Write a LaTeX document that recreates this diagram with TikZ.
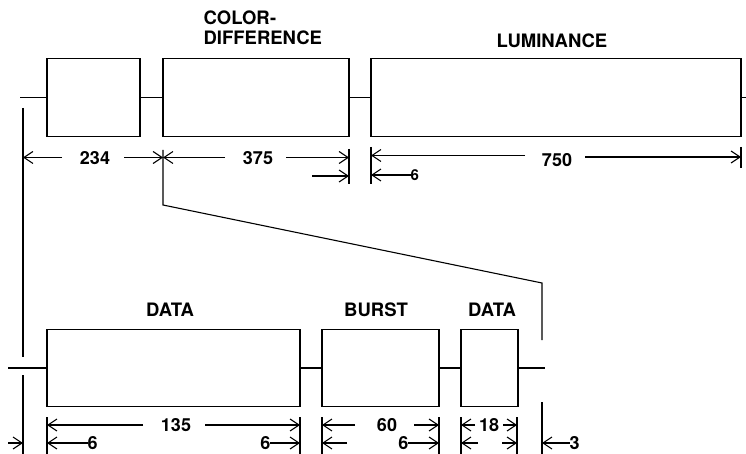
\documentclass[tikz,border=0pt]{standalone}
\usepackage{fontspec}
\setmainfont{TeX Gyre Heros}
\usetikzlibrary{arrows.meta}
\begin{document}
\begin{tikzpicture}[x=1pt,y=-1pt,
  line width=1.2pt,
  box/.style={draw, inner sep=0pt, minimum height=78pt},
  lbl/.style={inner sep=0pt, font=\fontsize{18.5}{20}\selectfont\bfseries, anchor=base},
  num/.style={inner sep=0pt, font=\fontsize{18}{20}\selectfont\bfseries},
  sml/.style={inner sep=0pt, font=\fontsize{15}{16}\selectfont\bfseries},
  dim/.style={-{Straight Barb[length=9pt,width=12pt]}, line width=1.1pt},
  ext/.style={line width=1.1pt}]
\useasboundingbox (0,0) rectangle (746,454);
% top row boxes
\node[box, minimum width=93pt]  (b1) at (93.5,97.5) {};
\node[box, minimum width=186pt] (b2) at (256,97.5) {};
\node[box, minimum width=370pt] (b3) at (556,97.5) {};
\coordinate (tl) at (20,97.5);
\coordinate (tr) at (746,97.5);
\draw (tl) -- (b1.west);
\draw (b1.east) -- (b2.west);
\draw (b2.east) -- (b3.west);
\draw (b3.east) -- (tr);
% bottom row boxes
\node[box, minimum width=253pt, minimum height=77pt] (d1) at (173.5,368) {};
\node[box, minimum width=117pt, minimum height=77pt] (bu) at (380.5,368) {};
\node[box, minimum width=57pt, minimum height=77pt]  (d2) at (489.5,368) {};
\coordinate (bl) at (8,368);
\coordinate (br) at (545,368);
\draw (bl) -- (d1.west);
\draw (d1.east) -- (bu.west);
\draw (bu.east) -- (d2.west);
\draw (d2.east) -- (br);
% labels
\node[lbl, anchor=base west] (cd) at (203,25) {COLOR-};
\node[lbl, anchor=base west] (cd2) at (203,45) {DIFFERENCE};
\node[lbl] (lum) at (552,48) {LUMINANCE};
\node[lbl] (data1) at (170,316) {DATA};
\node[lbl] (burst) at (376,316) {BURST};
\node[lbl] (data2) at (492,316) {DATA};
% extension lines
\draw[ext] (23,108) -- (23,357);
\draw[ext] (23,375) -- (23,454);
\draw[ext] (163,150) -- (163,205) -- (542,283) -- (542,340);
\draw[ext] (542,402) -- (542,454);
\draw[ext] (349,149) -- (349,184);
\draw[ext] (371,147) -- (371,184);
\draw[ext] (741,147) -- (741,168);
\foreach \xx in {47,300,322,439,461,517}
  \draw[ext] (\xx,417) -- (\xx,454);
% top dimensions
\node[num] (n234) at (95,158) {234};
\draw[dim] (62,157.5) -- (23,157.5);
\draw[dim] (124,157.5) -- (163,157.5);
\node[num] (n375) at (258,158) {375};
\draw[dim] (225,157.5) -- (163,157.5);
\draw[dim] (286,157.5) -- (349,157.5);
\draw[dim] (312,176) -- (349,176);
\node[num] (n750) at (557,160) {750};
\draw[dim] (525,155.5) -- (371,155.5);
\draw[dim] (585,157) -- (741,157);
\node[sml, anchor=west] (n6a) at (410,175.5) {6};
\draw[dim] (411,175) -- (371,175);
% bottom dimensions
\node[num] (n135) at (176,425) {135};
\draw[dim] (143,425) -- (47,425);
\draw[dim] (205,425) -- (300,425);
\node[num] (n60) at (387,425) {60};
\draw[dim] (355,425) -- (322,425);
\draw[dim] (414,425) -- (439,425);
\node[num] (n18) at (489,425) {18};
\draw[dim] (475,425) -- (461,425);
\draw[dim] (503,425) -- (517,425);
\node[num, anchor=west] (n6b) at (87,443) {6};
\draw[dim] (88,443) -- (47,443);
\node[num, anchor=east] (n6c) at (271,443) {6};
\draw[dim] (270,443) -- (300,443);
\draw[dim] (347,443) -- (322,443);
\node[num, anchor=east] (n6d) at (409,443) {6};
\draw[dim] (408,443) -- (439,443);
\draw[dim] (478,443) -- (461,443);
\draw[dim] (502,443) -- (517,443);
\node[num, anchor=west] (n3) at (569,443) {3};
\draw[dim] (570,443) -- (542,443);
\draw[dim] (8,443) -- (23,443);
\end{tikzpicture}
\end{document}
